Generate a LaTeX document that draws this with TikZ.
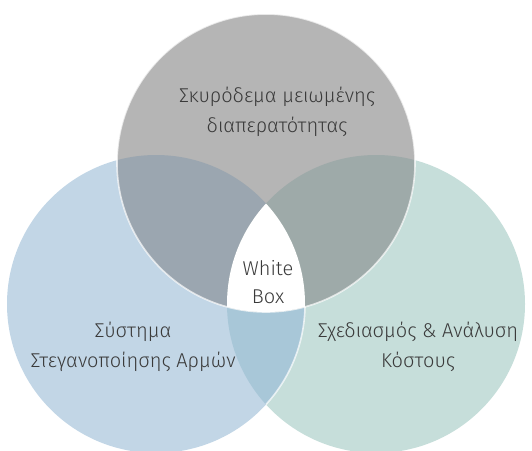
\documentclass[tikz,border=0pt]{standalone}
\usepackage{fontspec}
\setmainfont{Fira Sans}[UprightFont={* Light}]
\definecolor{topc}{HTML}{B5B5B5}
\definecolor{leftc}{HTML}{C2D6E6}
\definecolor{rightc}{HTML}{C6DEDA}
\definecolor{tlc}{HTML}{9BA6B0}
\definecolor{trc}{HTML}{9EAAA9}
\definecolor{lrc}{HTML}{A8C7D8}
\definecolor{txt}{HTML}{3A3A3A}
\begin{document}
\begin{tikzpicture}[x=1pt,y=-1pt,
  lbl/.style={anchor=base,inner sep=0pt,text=txt,font=\fontsize{20}{30}\selectfont},
  rim/.style={draw=white,line width=1.6pt,draw opacity=0.7}]
\useasboundingbox (0,0) rectangle (532,450);
\def\R{149}
\coordinate (T) at (266,163);
\coordinate (L) at (156,304);
\coordinate (Rc) at (376,304);
% base circles
\fill[rightc] (Rc) circle (\R);
\fill[leftc] (L) circle (\R);
\fill[topc] (T) circle (\R);
% left-right lens
\begin{scope}
  \clip (L) circle (\R);
  \fill[lrc] (Rc) circle (\R);
\end{scope}
% overlaps with top
\begin{scope}
  \clip (T) circle (\R);
  \fill[tlc] (L) circle (\R);
  \fill[trc] (Rc) circle (\R);
  \begin{scope}
    \clip (L) circle (\R);
    \fill[white] (Rc) circle (\R);
  \end{scope}
\end{scope}
% rims
\begin{scope}
  \clip (Rc) circle (\R);
  \begin{scope}[even odd rule]
    \clip (-10,-10) rectangle (560,480) (T) circle (\R);
    \draw[rim] (L) circle (\R);
  \end{scope}
\end{scope}
\draw[rim] (T) circle (\R);
% labels
\node[lbl] (t1) at (277,102) {Σκυρόδεμα μειωμένης};
\node[lbl] (t2) at (277,132) {διαπερατότητας};
\node[lbl] (w1) at (268,275) {White};
\node[lbl] (w2) at (268,303) {Box};
\node[lbl] (l1) at (133,337) {Σύστημα};
\node[lbl] (l2) at (133,367) {Στεγανοποίησης Αρμών};
\node[lbl] (r1) at (418,337) {Σχεδιασμός \& Ανάλυση};
\node[lbl] (r2) at (418,367) {Κόστους};
\end{tikzpicture}
\end{document}
